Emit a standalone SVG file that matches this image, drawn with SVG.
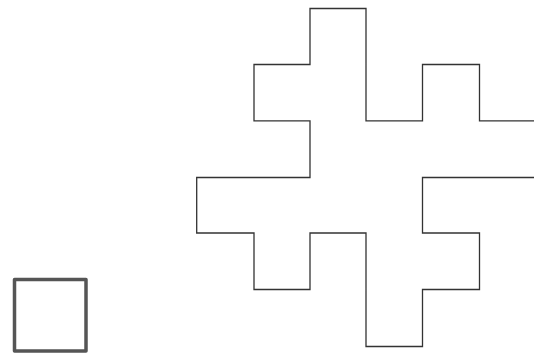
<svg xmlns="http://www.w3.org/2000/svg" width="534" height="355" viewBox="0 0 534 355">
<style>
.curve{fill:none;stroke:#333;stroke-width:1.3;stroke-linejoin:miter}
.box{fill:#fff;stroke:#555;stroke-width:3.5;stroke-linejoin:round}
</style>
<rect width="534" height="355" fill="#fff"/>
<g id="connectors">
<path class="curve" d="M534.5,120.8 H479.5 V64.5 H422.5 V120.8 H366 V8.5 H310 V64.5 H254 V120.8 H310 V177.5 H196.7 V233 H254 V289.5 H310 V233 H366 V346.5 H422.5 V289.5 H479.5 V233 H422.5 V177.5 H534.5"/>
</g>
<g id="square">
<rect class="box" x="14.5" y="279.5" width="71.5" height="71.5"/>
</g>
</svg>
